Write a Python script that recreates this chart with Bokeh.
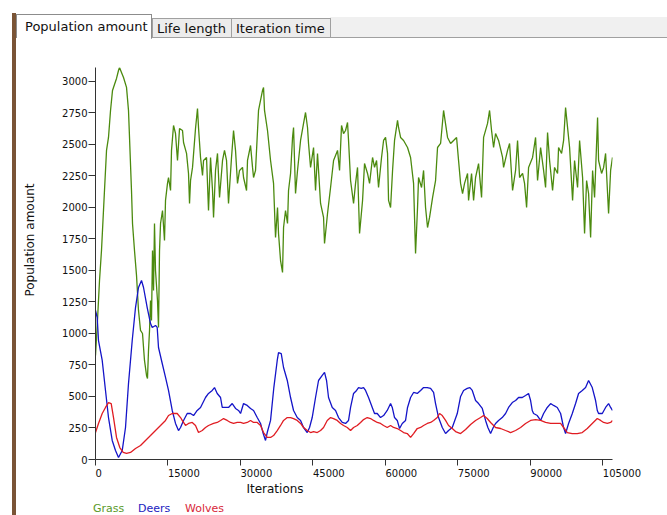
from bokeh.plotting import figure
from bokeh.layouts import row, column
from bokeh.models import Range1d, FixedTicker, Div
from bokeh.embed import file_html
from bokeh.resources import INLINE

# ---------------- data ----------------
tab_titles = ["Population amount", "Life length", "Iteration time"]
series_names = ["Grass", "Deers", "Wolves"]
x_ticks = [0, 15000, 30000, 45000, 60000, 75000, 90000, 105000]
y_ticks = [0, 250, 500, 750, 1000, 1250, 1500, 1750, 2000, 2250, 2500, 2750, 3000]
x_title = "Iterations"
y_title = "Population amount"

grass_x = [0, 410, 830, 1240, 1860, 2280, 2690, 3110, 3520, 3930,
           4350, 4760, 4970, 5380, 5800, 6420, 6830, 7040, 7450, 7660,
           8070, 8490, 8900, 9320, 9730, 10140, 10560, 10760, 10970, 11180,
           11390, 11590, 11800, 12010, 12210, 12420, 12830, 13040, 13250, 13460,
           13870, 14280, 14490, 14900, 15110, 15530, 15730, 16150, 16560, 16970,
           17390, 18010, 18220, 18840, 19250, 19460, 19670, 20080, 20700, 21110,
           21320, 21740, 22150, 22360, 22980, 23390, 23810, 24220, 24430, 24840,
           25250, 25670, 26290, 26700, 27120, 27530, 28150, 28570, 28980, 29390,
           29810, 30430, 30640, 31260, 31460, 32090, 32500, 32710, 33120, 33740,
           34570, 34780, 34980, 35600, 35810, 36230, 36850, 37260, 37670, 37880,
           38300, 38710, 38920, 39330, 39740, 39950, 40370, 40780, 40990, 41400,
           41810, 42440, 43060, 43470, 43880, 44090, 44510, 45130, 45540, 45950,
           46580, 47200, 47400, 48020, 48650, 49270, 50090, 50510, 50920, 51340,
           51750, 52160, 52370, 52790, 53410, 53820, 54230, 54650, 55270, 55680,
           56300, 56720, 57340, 57750, 58170, 58580, 59200, 59620, 60030, 60440,
           60650, 61070, 61480, 61890, 62510, 62720, 63140, 63760, 64580, 65210,
           65830, 66240, 66650, 66860, 67480, 67900, 68310, 68720, 69140, 69760,
           70380, 70790, 71420, 72040, 72860, 73490, 74110, 74730, 75140, 75560,
           75970, 76380, 77000, 77210, 77830, 78250, 78660, 79280, 79900, 80110,
           80320, 81140, 81560, 81970, 82390, 82800, 83420, 84250, 84460, 85280,
           85700, 86320, 86940, 87350, 87770, 88390, 88800, 89220, 89630, 90460,
           91080, 91490, 92120, 92740, 93150, 93560, 93980, 94600, 95010, 95630,
           95840, 96460, 96880, 97290, 97700, 98120, 98740, 99150, 99770, 100190,
           100810, 101220, 101640, 102050, 102470, 102880, 103290, 103910, 104120, 104740,
           105160, 105570, 105980, 106190, 106610, 107000]
grass_y = [825, 1103, 1421, 1659, 2135, 2453, 2556, 2770, 2929, 2976,
           3024, 3087, 3111, 3072, 3032, 2953, 2770, 2556, 2135, 1873,
           1659, 1460, 1183, 1024, 1000, 786, 667, 643, 865, 1024,
           1262, 1103, 1659, 1341, 1873, 1500, 1262, 1048, 1659, 1873,
           1976, 1738, 2056, 2191, 2238, 2135, 2453, 2651, 2587, 2373,
           2627, 2611, 2516, 2429, 2270, 2032, 2214, 2318, 2627, 2786,
           2635, 2397, 2254, 2373, 2397, 1976, 2397, 2135, 1921, 2294,
           2429, 2079, 2373, 2453, 2373, 2032, 2397, 2611, 2453, 2191,
           2294, 2318, 2238, 2135, 2373, 2492, 2318, 2238, 2294, 2770,
           2929, 2953, 2770, 2611, 2532, 2373, 2191, 1762, 2000, 1794,
           1579, 1484, 1841, 1976, 1873, 2135, 2270, 2556, 2635, 2111,
           2294, 2532, 2667, 2754, 2635, 2508, 2318, 2476, 2135, 2429,
           2032, 1921, 1714, 1952, 2159, 2373, 2453, 2294, 2651, 2587,
           2611, 2675, 2532, 2214, 2032, 2191, 2318, 1794, 2056, 2349,
           2270, 2191, 2397, 2318, 2373, 2159, 2397, 2532, 2556, 2429,
           2056, 2000, 2294, 2532, 2691, 2635, 2556, 2532, 2476, 2397,
           2191, 1635, 2000, 2238, 2159, 2294, 2000, 1841, 1921, 2079,
           2214, 2476, 2508, 2770, 2556, 2508, 2532, 2556, 2373, 2191,
           2111, 2191, 2270, 2056, 2270, 2056, 2238, 2349, 2079, 2318,
           2556, 2667, 2770, 2611, 2476, 2587, 2532, 2397, 2318, 2453,
           2508, 2135, 2294, 2532, 2238, 2270, 2191, 2000, 2318, 2397,
           2556, 2214, 2476, 2294, 2159, 2595, 2373, 2135, 2318, 2270,
           2476, 2429, 2532, 2794, 2635, 2476, 2056, 2373, 2159, 2532,
           2238, 1794, 2214, 2111, 1762, 2294, 2079, 2714, 2373, 2270,
           2318, 2429, 2111, 1952, 2294, 2397]

deer_x = [0, 350, 620, 1390, 2070, 2690, 3460, 4140, 4760, 5530,
          6210, 6830, 7600, 8280, 8900, 9520, 9940, 10700, 11390, 11740,
          12420, 12770, 13040, 13810, 14490, 15110, 15880, 16560, 17180, 17600,
          18220, 18980, 19670, 20290, 21050, 21740, 22770, 23390, 24160, 24630,
          25190, 25880, 26230, 26910, 27530, 28300, 28980, 29600, 30020, 30640,
          31400, 32090, 32710, 33470, 34160, 34710, 35190, 35540, 36230, 36910,
          37610, 37880, 38440, 38920, 39690, 40370, 40990, 41750, 42440, 43060,
          43820, 44300, 44850, 45540, 46160, 46930, 47400, 47820, 48230, 49000,
          49680, 50300, 51070, 51750, 52370, 52790, 53410, 54030, 54440, 55000,
          55480, 55890, 56510, 57280, 57750, 58310, 58990, 59620, 60380, 61070,
          61420, 61890, 62450, 62930, 63490, 64170, 64580, 65210, 65830, 66590,
          67280, 67900, 68660, 69350, 69970, 70380, 71000, 71770, 72450, 73070,
          73840, 74870, 75560, 76180, 76940, 77480, 77980, 78660, 79280, 80050,
          80730, 81210, 81770, 82320, 82800, 83420, 84180, 84870, 85490, 86260,
          86940, 87560, 88330, 89010, 89630, 90050, 90390, 90670, 91430, 92120,
          92740, 93500, 94190, 94810, 95570, 96260, 96880, 97290, 97910, 98680,
          99360, 99980, 100750, 101430, 102050, 102810, 103500, 103850, 104120, 104890,
          105570, 106190, 106610, 107000]
deer_y = [1183, 1127, 944, 786, 548, 333, 151, 71, 16, 71,
          254, 603, 944, 1206, 1365, 1421, 1365, 1206, 1079, 1048,
          1064, 1048, 889, 762, 651, 548, 389, 286, 230, 254,
          310, 365, 365, 349, 389, 413, 492, 524, 548, 571,
          524, 492, 413, 413, 413, 444, 405, 389, 365, 444,
          429, 405, 389, 333, 286, 206, 151, 214, 310, 571,
          786, 849, 841, 730, 627, 492, 389, 333, 310, 254,
          214, 254, 333, 492, 627, 667, 691, 627, 492, 413,
          389, 333, 294, 286, 310, 413, 524, 548, 571, 564,
          571, 548, 492, 413, 365, 365, 333, 349, 389, 444,
          413, 333, 310, 246, 286, 310, 413, 492, 532, 524,
          548, 571, 571, 564, 532, 444, 333, 254, 206, 230,
          254, 365, 500, 548, 564, 571, 548, 468, 444, 405,
          310, 254, 206, 254, 286, 310, 333, 365, 413, 452,
          468, 492, 492, 508, 524, 468, 389, 365, 349, 310,
          365, 413, 444, 429, 413, 365, 254, 206, 286, 365,
          444, 524, 548, 571, 627, 571, 468, 389, 365, 365,
          413, 444, 413, 389]

wolf_x = [0, 620, 1390, 2070, 2690, 3250, 3730, 4350, 5030, 5730,
          6420, 7250, 8280, 9320, 10350, 11390, 12420, 13460, 14490, 15110,
          15880, 16910, 17600, 17950, 18630, 19250, 20020, 20700, 21320, 22090,
          22770, 23390, 24430, 25190, 25880, 26500, 27260, 27950, 28570, 29330,
          30020, 30640, 31400, 32090, 32710, 33470, 34160, 34780, 35540, 36230,
          36850, 37610, 38300, 38920, 39690, 40370, 40990, 41750, 42440, 43060,
          43820, 44510, 45130, 45890, 46580, 47200, 47960, 48650, 49270, 50030,
          50720, 51340, 52100, 52790, 53410, 54170, 54860, 55480, 56240, 56930,
          57550, 58310, 59000, 59620, 60380, 61070, 61690, 62450, 63140, 63760,
          64520, 65210, 65830, 66590, 67280, 67900, 68660, 69350, 69970, 70730,
          71210, 71770, 72450, 73070, 73840, 74520, 75560, 76590, 77630, 78660,
          79700, 80320, 81070, 81770, 82800, 83840, 84870, 85910, 86940, 87980,
          89010, 90050, 91080, 92120, 93150, 94190, 95220, 96260, 96880, 97640,
          98670, 99710, 100740, 101780, 102810, 103850, 104540, 105160, 105920, 106610,
          107000]
wolf_y = [214, 286, 365, 413, 452, 444, 333, 175, 95, 56,
          48, 56, 87, 111, 151, 190, 230, 270, 310, 349,
          365, 365, 333, 310, 270, 286, 294, 270, 214, 230,
          254, 270, 286, 294, 310, 325, 310, 294, 286, 294,
          294, 286, 294, 310, 294, 294, 270, 214, 175, 175,
          190, 230, 270, 310, 333, 333, 325, 310, 286, 254,
          230, 214, 222, 214, 230, 254, 310, 333, 325, 310,
          286, 270, 254, 230, 254, 270, 294, 317, 333, 325,
          310, 294, 286, 270, 254, 270, 254, 246, 230, 214,
          206, 175, 206, 246, 254, 270, 286, 294, 310, 333,
          365, 349, 310, 270, 246, 222, 206, 238, 278, 310,
          333, 349, 325, 294, 254, 246, 230, 214, 230, 254,
          286, 310, 317, 310, 294, 286, 286, 286, 254, 214,
          206, 206, 214, 246, 286, 325, 310, 294, 286, 294,
          310]

# ---------------- style / layout ----------------
W, H = 667, 515
TOP_H = 38                 # tab strip
LEFT_W = 45                # margin + brown bar + y title
BOTTOM_H = 34              # x title + legend
FIG_W, FIG_H = W - LEFT_W, H - TOP_H - BOTTOM_H
FL, FR, FT, FB = 95, 612, 67, 459          # plot frame in window pixels
FONT_CSS = "font-family:'DejaVu Sans';"
GREEN, BLUE, RED = "#4b8a0e", "#1414c8", "#e01c22"
LEGEND_COLORS = ["#5a9a2a", "#2222c0", "#d8283a"]
AXIS = "#333333"
BROWN = "#7a5436"

# ---- top strip with tabs
tab_boxes = [(16, 152, 14, True), (152, 231, 18, False), (231, 330, 18, False)]
parts = ['<div style="position:relative;width:%dpx;height:%dpx;background:white;%s'
         'font-size:13px;color:#111;">' % (W, TOP_H, FONT_CSS),
         '<div style="position:absolute;left:12px;top:13px;width:4px;height:%dpx;'
         'background:%s;"></div>' % (TOP_H - 13, BROWN),
         '<div style="position:absolute;left:330px;top:17px;width:%dpx;height:21px;'
         'background:#f0f0f0;"></div>' % (W - 330),
         '<div style="position:absolute;left:16px;top:37px;width:%dpx;height:1px;'
         'background:#a0a0a0;"></div>' % (W - 16)]
for title, (l, r, top, sel) in zip(tab_titles, tab_boxes):
    if sel:
        parts.append('<div style="position:absolute;left:%dpx;top:%dpx;width:%dpx;height:%dpx;'
                     'box-sizing:border-box;background:white;border:1px solid #8c8c8c;'
                     'border-bottom:none;padding-left:8px;padding-top:3px;white-space:nowrap;">%s</div>'
                     % (l, top, r - l, TOP_H - top + 1, title))
    else:
        parts.append('<div style="position:absolute;left:%dpx;top:%dpx;width:%dpx;height:%dpx;'
                     'box-sizing:border-box;background:#ececec;border:1px solid #a0a0a0;'
                     'padding-left:4px;padding-top:1px;white-space:nowrap;">%s</div>'
                     % (l, top, r - l + 1, TOP_H - top, title))
parts.append('</div>')
top_div = Div(text="".join(parts), width=W, height=TOP_H, margin=0)

# ---- left strip: brown bar + rotated y title
left_div = Div(text=('<div style="position:relative;width:%dpx;height:%dpx;background:white;%s">'
                     '<div style="position:absolute;left:12px;top:0;width:4px;height:%dpx;background:%s;"></div>'
                     '<div style="position:absolute;left:31px;top:%dpx;transform:translate(-50%%,-50%%) rotate(-90deg);'
                     'white-space:nowrap;font-size:12px;color:#111;">%s</div></div>')
               % (LEFT_W, H - TOP_H, FONT_CSS, H - TOP_H, BROWN, 240 - TOP_H, y_title),
               width=LEFT_W, height=H - TOP_H, margin=0)

# ---- chart
p = figure(width=FIG_W, height=FIG_H, output_backend="svg", toolbar_location=None,
           x_range=Range1d(0, 107000), y_range=Range1d(0, 3111),
           min_border_left=FL - LEFT_W, min_border_right=W - FR,
           min_border_top=FT - TOP_H, min_border_bottom=FIG_H - (FB - TOP_H), margin=0)
p.outline_line_color = None
p.background_fill_color = "white"
p.border_fill_color = "white"
p.xgrid.visible = False
p.ygrid.visible = False

for ax, ticks, tout, stand in ((p.xaxis, x_ticks, 6, 2), (p.yaxis, y_ticks, 7, 1)):
    ax.ticker = FixedTicker(ticks=ticks)
    ax.major_tick_out = tout
    ax.major_tick_in = 0
    ax.minor_tick_out = 0
    ax.minor_tick_in = 0
    ax.axis_line_color = AXIS
    ax.major_tick_line_color = AXIS
    ax.major_label_standoff = stand
    ax.major_label_text_font = "DejaVu Sans"
    ax.major_label_text_font_size = "10px"
    ax.major_label_text_color = "#111111"

# x labels start at their tick (as in the original): pad with figure spaces
p.xaxis.major_label_overrides = {t: "\u2007" * len(str(t)) + str(t) for t in x_ticks}
p.yaxis.major_label_text_baseline = "alphabetic"

p.line(grass_x, grass_y, line_color=GREEN, line_width=1.3)
p.line(deer_x, deer_y, line_color=BLUE, line_width=1.3)
p.line(wolf_x, wolf_y, line_color=RED, line_width=1.3)

# ---- bottom strip: x title + legend
bparts = ['<div style="position:relative;width:%dpx;height:%dpx;background:white;%s">'
          % (FIG_W, BOTTOM_H, FONT_CSS),
          '<div style="position:absolute;left:%dpx;top:%dpx;transform:translate(-50%%,-50%%);'
          'white-space:nowrap;font-size:12px;color:#111;">%s</div>'
          % (275 - LEFT_W, 490 - (H - BOTTOM_H), x_title)]
for name, col, cx in zip(series_names, LEGEND_COLORS, [93, 138, 185]):
    bparts.append('<div style="position:absolute;left:%dpx;top:%dpx;transform:translate(0,-50%%);'
                  'white-space:nowrap;font-size:11px;color:%s;">%s</div>'
                  % (cx - LEFT_W, 509 - (H - BOTTOM_H), col, name))
bparts.append('</div>')
bottom_div = Div(text="".join(bparts), width=FIG_W, height=BOTTOM_H, margin=0)

root = column(top_div,
              row(left_div, column(p, bottom_div, spacing=0, margin=0), spacing=0, margin=0),
              spacing=0, margin=0)
open("out.html", "w").write(file_html(root, INLINE))
